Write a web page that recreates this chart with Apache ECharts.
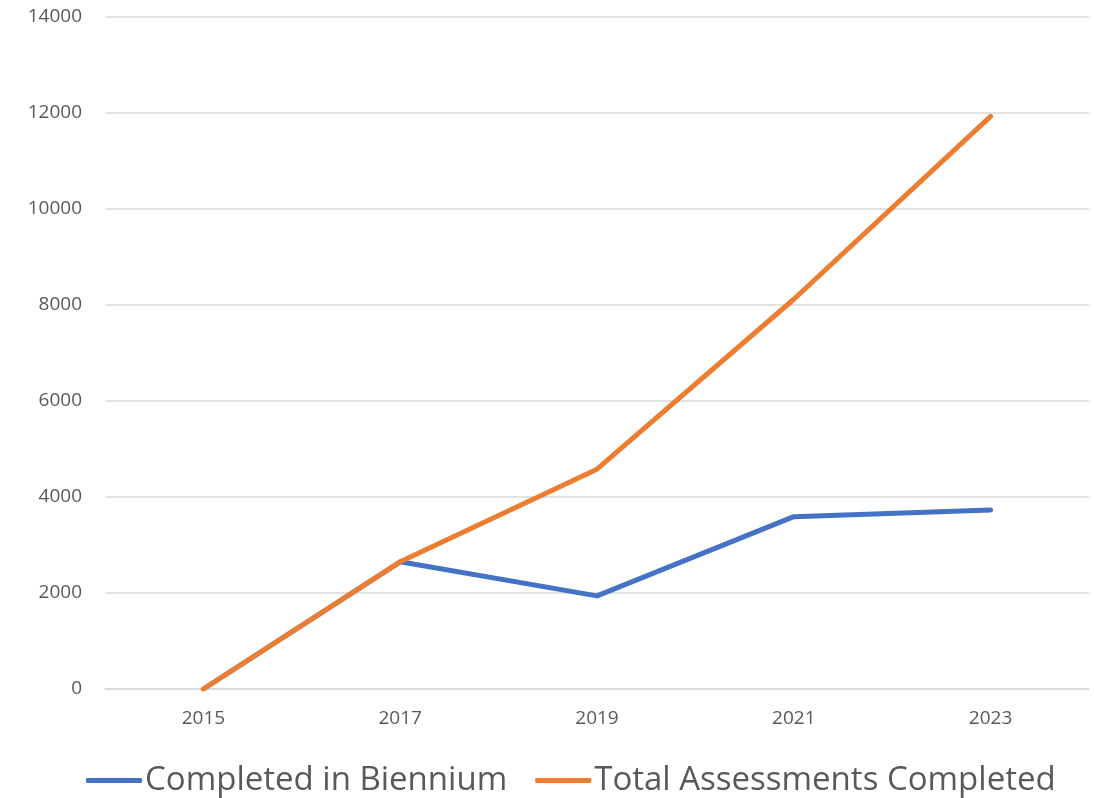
<!DOCTYPE html>
<html><head><meta charset="utf-8">
<script src="https://cdn.jsdelivr.net/npm/echarts@6/dist/echarts.min.js"></script>
<style>html,body{margin:0;padding:0;background:#fff}#c{width:1094px;height:798px}</style>
</head><body><div id="c"></div>
<script>
const categories = ['2015','2017','2019','2021','2023'];
const completedInBiennium = [0, 2650, 1940, 3590, 3730];
const totalAssessments = [0, 2650, 4580, 8120, 11930];
const chart = echarts.init(document.getElementById('c'), null, {renderer:'canvas'});
const font = 'Open Sans';
chart.setOption({
  animation:false,
  grid:{left:105,right:5,top:17,bottom:109,containLabel:false},
  legend:{
    bottom:-4,left:81,itemWidth:56,itemHeight:5,itemGap:28,
    icon:'roundRect',
    textStyle:{fontFamily:font,fontSize:33,color:'#595959',padding:[0,0,0,-2]},
    data:['Completed in Biennium','Total Assessments Completed']
  },
  xAxis:{type:'category',data:categories,boundaryGap:true,
    axisLine:{lineStyle:{color:'#d9d9d9',width:1.5}},axisTick:{show:false},
    axisLabel:{fontFamily:font,fontSize:19,color:'#595959',margin:20}},
  yAxis:{type:'value',min:0,max:14000,interval:2000,
    axisLine:{show:false},axisTick:{show:false},
    splitLine:{lineStyle:{color:'#d9d9d9',width:1.5}},
    axisLabel:{fontFamily:font,fontSize:19,color:'#595959',margin:23,formatter:v=>String(v)}},
  series:[
    {name:'Completed in Biennium',type:'line',data:completedInBiennium,showSymbol:false,symbol:'none',
      lineStyle:{color:'#4472c4',width:5,cap:'round',join:'round'},itemStyle:{color:'#4472c4'}},
    {name:'Total Assessments Completed',type:'line',data:totalAssessments,showSymbol:false,symbol:'none',
      lineStyle:{color:'#ed7d31',width:5,cap:'round',join:'round'},itemStyle:{color:'#ed7d31'}}
  ]
});
</script></body></html>
